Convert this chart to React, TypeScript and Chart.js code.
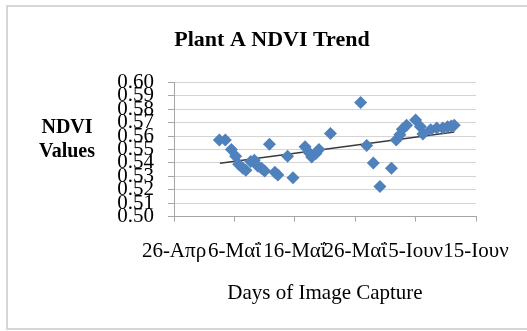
import { useEffect, useRef } from 'react';
import { Chart, registerables } from 'chart.js';

Chart.register(...registerables);

const chartTitle = 'Plant A NDVI Trend';
const xAxisTitle = 'Days of Image Capture';
const yAxisTitleLines = ['NDVI', 'Values'];
const xTickLabels = ['26-Απρ', '6-Μαΐ', '16-Μαΐ', '26-Μαΐ', '5-Ιουν', '15-Ιουν'];
const xTickDays = [0, 10, 20, 30, 40, 50];

// days after 26 April
const captureDays = [
  7.5, 8.5, 9.5, 10.2, 10.7, 11.4, 11.9, 12.7, 13.3, 13.9, 14.5, 15.0, 15.8, 16.7, 17.2,
  18.8, 19.7, 21.7, 22.3, 22.8, 23.5, 24.0, 25.9, 30.9, 31.9, 33.0, 34.1, 36.0, 36.8, 37.4,
  37.8, 38.5, 40.0, 40.8, 41.2, 42.5, 43.5, 44.5, 45.3, 45.9, 46.4,
];
const ndviValues = [
  0.557, 0.557, 0.550, 0.545, 0.539, 0.536, 0.5345, 0.541, 0.542, 0.5375, 0.536, 0.534, 0.554, 0.533, 0.531,
  0.545, 0.529, 0.552, 0.548, 0.5445, 0.547, 0.550, 0.562, 0.585, 0.553, 0.540, 0.5225, 0.536, 0.557, 0.561,
  0.565, 0.568, 0.572, 0.567, 0.5615, 0.5648, 0.566, 0.566, 0.567, 0.5675, 0.568,
];
const trendDays = [7.6, 46.4];
const trendValues = [0.5398, 0.5631];

const SERIF = '"Liberation Serif", "Times New Roman", serif';

const yTitlePlugin = {
  id: 'yTitleHorizontal',
  afterDraw(chart: any) {
    const ctx = chart.ctx;
    const { left, top } = chart.chartArea;
    ctx.save();
    ctx.font = `bold 20px ${SERIF}`;
    ctx.fillStyle = '#000';
    ctx.textAlign = 'center';
    ctx.textBaseline = 'middle';
    yAxisTitleLines.forEach((line, i) => {
      ctx.fillText(line, left - 107, top + 45 + i * 24);
    });
    ctx.restore();
  },
};

export default function App() {
  const canvasRef = useRef<HTMLCanvasElement | null>(null);

  useEffect(() => {
    if (!canvasRef.current) return;
    const chart = new Chart(canvasRef.current, {
      type: 'scatter',
      data: {
        datasets: [
          {
            label: 'NDVI',
            data: captureDays.map((d, i) => ({ x: d, y: ndviValues[i] })),
            pointStyle: 'rectRot',
            pointRadius: 6.5,
            pointHoverRadius: 6.5,
            backgroundColor: '#4f81bd',
            borderColor: '#4f81bd',
            borderWidth: 0,
            order: 0,
          },
          {
            label: 'Trend',
            data: trendDays.map((d, i) => ({ x: d, y: trendValues[i] })),
            showLine: true,
            pointRadius: 0,
            borderColor: '#3a3a3a',
            borderWidth: 1.5,
            order: 1,
          },
        ],
      },
      options: {
        responsive: false,
        animation: false,
        layout: { padding: { left: 68, right: 51, top: 0, bottom: 25 } },
        plugins: {
          legend: { display: false },
          tooltip: { enabled: false },
          title: {
            display: true,
            text: chartTitle,
            color: '#000',
            font: { family: SERIF, size: 22, weight: 'bold' },
            padding: { top: 27, bottom: 29 },
          },
        },
        scales: {
          x: {
            type: 'linear',
            min: 0,
            max: 50,
            afterBuildTicks: (scale: any) => {
              scale.ticks = xTickDays.map((v) => ({ value: v }));
            },
            ticks: {
              autoSkip: false,
              maxRotation: 0,
              minRotation: 0,
              padding: 17,
              color: '#000',
              font: { family: SERIF, size: 21 },
              callback: (v: any) => {
                const idx = xTickDays.indexOf(Number(v));
                return idx >= 0 ? xTickLabels[idx] : '';
              },
            },
            grid: {
              drawOnChartArea: false,
              drawTicks: true,
              tickLength: 5,
              tickColor: '#a6a6a6',
            },
            border: { display: true, color: '#a6a6a6', width: 1 },
            title: {
              display: true,
              text: xAxisTitle,
              color: '#000',
              font: { family: SERIF, size: 21 },
              padding: { top: 0, bottom: 0 },
            },
          },
          y: {
            type: 'linear',
            min: 0.5,
            max: 0.6,
            afterFit: (scale: any) => {
              scale.width = 106;
            },
            ticks: {
              stepSize: 0.01,
              autoSkip: false,
              padding: 14,
              color: '#000',
              font: { family: SERIF, size: 21 },
              callback: (v: any) => Number(v).toFixed(2),
            },
            grid: {
              color: '#d4d4d4',
              lineWidth: 1,
              drawTicks: true,
              tickLength: 6,
              tickColor: '#a6a6a6',
            },
            border: { display: true, color: '#a6a6a6', width: 1 },
          },
        },
      },
      plugins: [yTitlePlugin],
    } as any);
    return () => chart.destroy();
  }, []);

  return (
    <div
      style={{
        position: 'fixed',
        left: 0,
        top: 0,
        width: 527,
        height: 331,
        overflow: 'hidden',
        background: '#fff',
      }}
    >
      <div
        style={{
          position: 'absolute',
          left: 6,
          top: 5,
          width: 540,
          height: 321,
          border: '2px solid #d6d6d6',
        }}
      />
      <canvas
        ref={canvasRef}
        width={527}
        height={331}
        style={{ position: 'absolute', left: 0, top: 0 }}
      />
    </div>
  );
}
